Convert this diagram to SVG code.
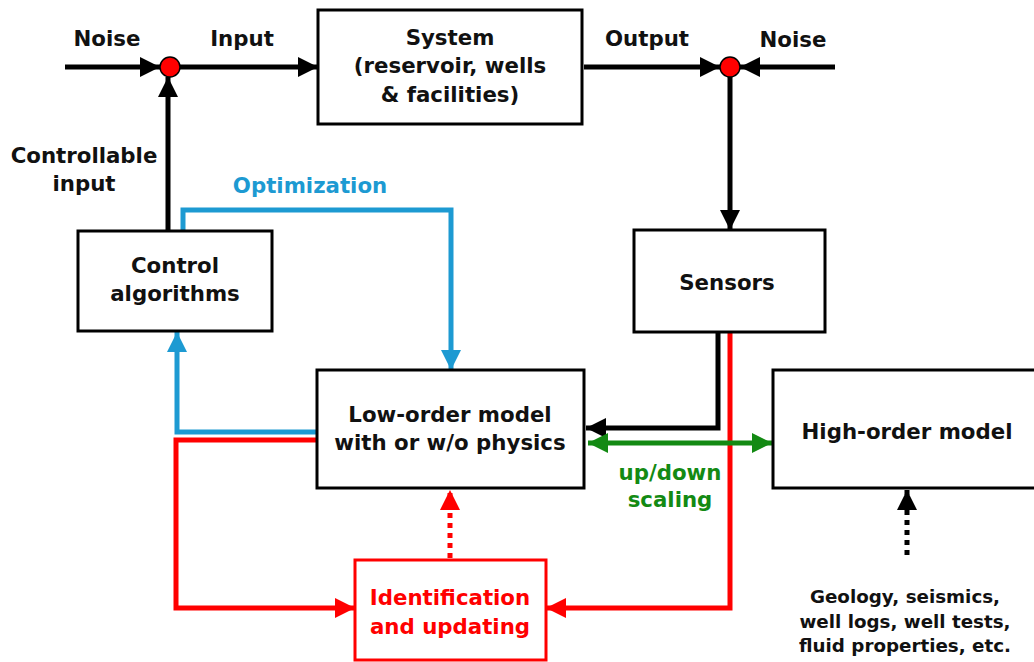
<svg xmlns="http://www.w3.org/2000/svg" width="1034" height="662" viewBox="0 0 1034 662">
<style>
text{font-family:"DejaVu Sans","Liberation Sans",sans-serif;font-weight:bold;font-size:21.3px;text-anchor:middle;fill:#111}
.box{fill:#fff;stroke:#000;stroke-width:3}
.k{stroke:#000;stroke-width:5;fill:none}
.b{stroke:#1d9ad2;stroke-width:5;fill:none}
.r{stroke:#ff0000;stroke-width:5;fill:none}
.g{stroke:#138a13;stroke-width:5;fill:none}
.sm{font-size:18.3px}
</style>
<defs>
<marker id="ak" viewBox="0 0 10 10" refX="10" refY="5" markerWidth="4" markerHeight="4" orient="auto" markerUnits="strokeWidth"><path d="M0,0L10,5L0,10z" fill="#000"/></marker>
<marker id="ab" viewBox="0 0 10 10" refX="10" refY="5" markerWidth="4" markerHeight="4" orient="auto" markerUnits="strokeWidth"><path d="M0,0L10,5L0,10z" fill="#1d9ad2"/></marker>
<marker id="ar" viewBox="0 0 10 10" refX="10" refY="5" markerWidth="4" markerHeight="4" orient="auto" markerUnits="strokeWidth"><path d="M0,0L10,5L0,10z" fill="#ff0000"/></marker>
<marker id="ag" viewBox="0 0 10 10" refX="10" refY="5" markerWidth="4" markerHeight="4" orient="auto-start-reverse" markerUnits="strokeWidth"><path d="M0,0L10,5L0,10z" fill="#138a13"/></marker>
</defs>
<g id="connectors">
<path class="k" d="M65,67H160" marker-end="url(#ak)"/>
<path class="k" d="M180,67H318" marker-end="url(#ak)"/>
<path class="k" d="M584,67H720" marker-end="url(#ak)"/>
<path class="k" d="M835,67H740" marker-end="url(#ak)"/>
<path class="k" d="M730,77V230" marker-end="url(#ak)"/>
<path class="k" d="M168,231V77" marker-end="url(#ak)"/>
<path class="b" d="M183,231V210H451V370" marker-end="url(#ab)"/>
<path class="b" d="M317,432H177V332" marker-end="url(#ab)"/>
<path class="r" d="M317,440H176V608H355" marker-end="url(#ar)"/>
<path class="r" d="M730,332V608H546" marker-end="url(#ar)"/>
<path class="r" d="M450,558V490" stroke-dasharray="5,5" marker-end="url(#ar)"/>
<path class="k" d="M718,332V428H586" stroke-width="6" marker-end="url(#ak)"/>
<path class="g" d="M588,443H772" marker-start="url(#ag)" marker-end="url(#ag)"/>
<path class="k" d="M907,555V490" stroke-dasharray="5,5" marker-end="url(#ak)"/>
</g>
<g id="sum1"><circle cx="170" cy="67" r="10" fill="#ff0000" stroke="#000" stroke-width="1.5"/></g>
<g id="sum2"><circle cx="730" cy="67" r="10" fill="#ff0000" stroke="#000" stroke-width="1.5"/></g>
<g id="labels">
<text x="107" y="46">Noise</text>
<text x="242" y="46">Input</text>
<text x="647" y="46">Output</text>
<text x="793" y="47">Noise</text>
<text x="84" y="163">Controllable</text>
<text x="84" y="191">input</text>
<text x="310" y="193" style="fill:#1d9ad2">Optimization</text>
<text x="670" y="480" style="fill:#138a13">up/down</text>
<text x="670" y="507" style="fill:#138a13">scaling</text>
</g>
<g id="system"><rect class="box" x="318" y="10" width="264" height="114"/>
<text x="450" y="45">System</text><text x="450" y="73">(reservoir, wells</text><text x="450" y="102">&amp; facilities)</text></g>
<g id="control"><rect class="box" x="78" y="231" width="194" height="100"/>
<text x="175" y="273">Control</text><text x="175" y="301">algorithms</text></g>
<g id="sensors"><rect class="box" x="634" y="230" width="191" height="102"/>
<text x="727" y="290">Sensors</text></g>
<g id="loworder"><rect class="box" x="317" y="370" width="267" height="118"/>
<text x="450" y="422">Low-order model</text><text x="450" y="450">with or w/o physics</text></g>
<g id="highorder"><rect class="box" x="773" y="370" width="270" height="118"/>
<text x="907" y="439">High-order model</text></g>
<g id="ident"><rect x="355" y="560" width="191" height="100" fill="#fff" stroke="#ff0000" stroke-width="3"/>
<text x="450" y="605" style="fill:#ff0000">Identification</text><text x="450" y="634" style="fill:#ff0000">and updating</text></g>
<g id="sources">
<text class="sm" x="905" y="603">Geology, seismics,</text>
<text class="sm" x="905" y="628">well logs, well tests,</text>
<text class="sm" x="905" y="652">fluid properties, etc.</text>
</g>
</svg>
